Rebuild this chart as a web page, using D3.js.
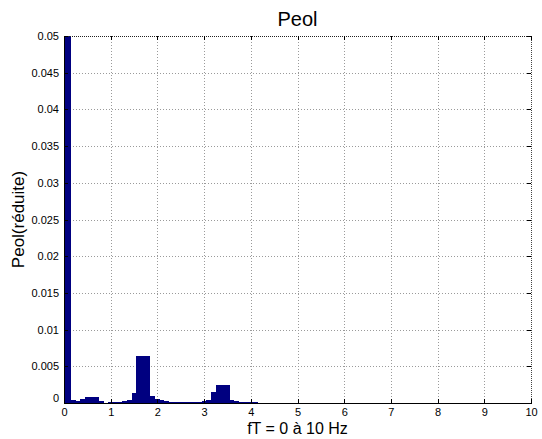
<!DOCTYPE html>
<html>
<head>
<meta charset="utf-8">
<script src="https://cdn.jsdelivr.net/npm/d3@7"></script>
<style>
  html, body { margin: 0; padding: 0; background: #fff; }
  svg { display: block; font-family: "Liberation Sans", Arial, sans-serif; }
</style>
</head>
<body>
<svg id="chart" width="542" height="439"></svg>
<script>
// ---- data ----
const binWidth = 0.1;
const frequencies = d3.range(0, 47).map(k => +(k * 0.1).toFixed(1));
const values = [
  0.12, 0.06, 0.00045, 0.00023, 0.00055, 0.0008, 0.00085, 0.0008, 0.00023, 0.00005,
  0.00018, 0.00018, 0.0002, 0.0003, 0.00045, 0.0014, 0.0064, 0.0064, 0.0064, 0.001,
  0.0006, 0.0004, 0.0003, 0.0002, 0.00018, 0.00015, 0.00015, 0.00015, 0.00018, 0.0002,
  0.00022, 0.00045, 0.0015, 0.0025, 0.0025, 0.0025, 0.00045, 0.00027, 0.00015, 0.00014,
  0.00012, 0.00008, 0.00006, 0.00005, 0.00005, 0.00004, 0.00003
];
const xTicks = [0, 1, 2, 3, 4, 5, 6, 7, 8, 9, 10];
const yTicks = [0, 0.005, 0.01, 0.015, 0.02, 0.025, 0.03, 0.035, 0.04, 0.045, 0.05];
const yTickLabels = ["0", "0.005", "0.01", "0.015", "0.02", "0.025", "0.03", "0.035", "0.04", "0.045", "0.05"];
const titleText = "Peol";
const xLabelText = "fT = 0 à 10 Hz";
const yLabelText = "Peol(réduite)";

// ---- layout ----
const svg = d3.select("#chart");
const mLeft = 64, mRight = 531, mTop = 36, mBottom = 403;
const x = d3.scaleLinear().domain([0, 10]).range([mLeft, mRight]);
const y = d3.scaleLinear().domain([0, 0.05]).range([mBottom, mTop]);

svg.append("rect").attr("width", 542).attr("height", 439).attr("fill", "#fff");

svg.append("defs").append("clipPath").attr("id", "clip")
  .append("rect").attr("x", mLeft).attr("y", mTop)
  .attr("width", mRight - mLeft).attr("height", mBottom - mTop);

// grid
const grid = svg.append("g").attr("stroke", "#9a9a9a").attr("stroke-width", 1)
  .attr("stroke-dasharray", "1,2").attr("shape-rendering", "crispEdges");
grid.selectAll("line.vx").data(xTicks.filter(t => t > 0 && t < 10)).join("line")
  .attr("x1", d => Math.round(x(d)) + 0.5).attr("x2", d => Math.round(x(d)) + 0.5)
  .attr("y1", mTop).attr("y2", mBottom);
grid.selectAll("line.hy").data(yTicks.filter(t => t > 0 && t < 0.05)).join("line")
  .attr("y1", d => Math.round(y(d)) + 0.5).attr("y2", d => Math.round(y(d)) + 0.5)
  .attr("x1", mLeft).attr("x2", mRight);

// bars
svg.append("g").attr("clip-path", "url(#clip)").attr("shape-rendering", "crispEdges")
  .selectAll("rect").data(frequencies.map((f, i) => ({ f, v: values[i] }))).join("rect")
  .attr("x", d => Math.round(x(d.f - binWidth / 2)))
  .attr("width", d => Math.round(x(d.f + binWidth / 2)) - Math.round(x(d.f - binWidth / 2)))
  .attr("y", d => Math.round(y(d.v)))
  .attr("height", d => mBottom - Math.round(y(d.v)))
  .attr("fill", "#000080");

// frame: top and right dotted, left and bottom solid
svg.append("line").attr("x1", mLeft).attr("x2", mRight).attr("y1", mTop + 0.5).attr("y2", mTop + 0.5)
  .attr("stroke", "#222").attr("stroke-dasharray", "1,1");
svg.append("line").attr("x1", mRight + 0.5).attr("x2", mRight + 0.5).attr("y1", mTop).attr("y2", mBottom)
  .attr("stroke", "#444").attr("stroke-dasharray", "1,1");

// axes
const xAxis = d3.axisBottom(x).tickValues(xTicks).tickSize(0).tickPadding(5).tickFormat(d3.format("d"));
const gx = svg.append("g").attr("transform", `translate(0,${mBottom})`).call(xAxis);
gx.select(".domain").attr("stroke", "#000").attr("shape-rendering", "crispEdges");
gx.selectAll("text").attr("font-size", 11).attr("fill", "#000")
  .attr("font-family", "Liberation Sans, Arial, sans-serif");

const yAxis = d3.axisLeft(y).tickValues(yTicks).tickSize(0).tickPadding(5)
  .tickFormat((d, i) => yTickLabels[i]);
const gy = svg.append("g").attr("transform", `translate(${mLeft},0)`).call(yAxis);
gy.select(".domain").attr("stroke", "#000").attr("shape-rendering", "crispEdges");
gy.selectAll("text").attr("font-size", 11).attr("fill", "#000")
  .attr("font-family", "Liberation Sans, Arial, sans-serif");
gy.selectAll(".tick").filter(d => d === 0).select("text").attr("dy", "-0.1em");

// inward tick marks on all four sides
const tk = svg.append("g").attr("stroke", "#000").attr("stroke-width", 1).attr("shape-rendering", "crispEdges");
xTicks.forEach(t => {
  const px = Math.round(x(t)) + 0.5;
  tk.append("line").attr("x1", px).attr("x2", px).attr("y1", mBottom).attr("y2", mBottom - 4);
  tk.append("line").attr("x1", px).attr("x2", px).attr("y1", mTop).attr("y2", mTop + 4);
});
yTicks.forEach(t => {
  const py = Math.round(y(t)) + 0.5;
  tk.append("line").attr("x1", mLeft).attr("x2", mLeft + 4).attr("y1", py).attr("y2", py);
  tk.append("line").attr("x1", mRight).attr("x2", mRight - 4).attr("y1", py).attr("y2", py);
});

// texts
svg.append("text").attr("x", (mLeft + mRight) / 2).attr("y", 26).attr("text-anchor", "middle")
  .attr("font-size", 20).attr("fill", "#000").text(titleText);
svg.append("text").attr("x", (mLeft + mRight) / 2).attr("y", 434).attr("text-anchor", "middle")
  .attr("font-size", 16).attr("fill", "#000").text(xLabelText);
svg.append("text").attr("transform", `translate(24,${(mTop + mBottom) / 2}) rotate(-90)`)
  .attr("text-anchor", "middle").attr("font-size", 17).attr("fill", "#000").text(yLabelText);
</script>
</body>
</html>
